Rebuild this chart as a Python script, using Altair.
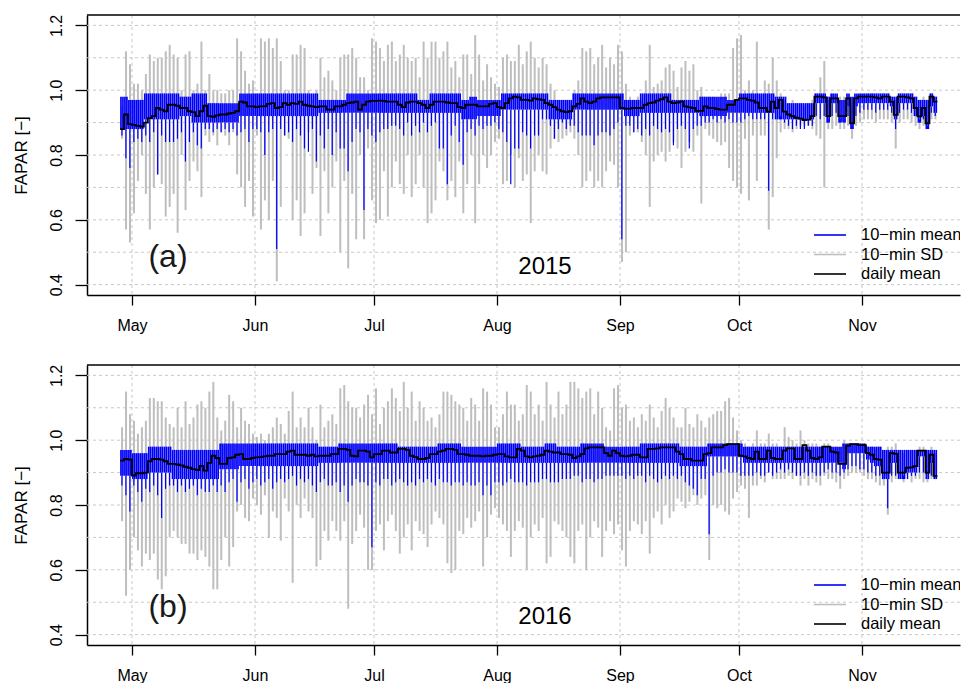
import altair as alt
import pandas as pd

# ---------------- data ----------------
# day index 0 = 28 April; month ticks at the first day of each month
MONTHS = ["May", "Jun", "Jul", "Aug", "Sep", "Oct", "Nov"]
MONTH_DAY = [3, 34, 64, 95, 126, 156, 187]
Y_TICKS = [0.4, 0.6, 0.8, 1.0, 1.2]
Y_GRID = [0.4, 0.5, 0.6, 0.7, 0.8, 0.9, 1.0, 1.1, 1.2]
LEGEND_LABELS = ["10\u2212min mean", "10\u2212min SD", "daily mean"]
LEGEND_COLORS = ["#0000FF", "#BEBEBE", "#000000"]

# 2015 -------------------------------------------------------
MEAN_2015 = [880, 925, 895, 893, 890, 888, 900, 914, 920, 945, 940, 935, 955, 955, 952, 945, 945, 935, 932, 920,
             935, 952, 920, 918, 922, 925, 925, 928, 930, 935, 965, 962, 950, 950, 948, 950, 950, 958, 960, 945,
             948, 960, 955, 960, 958, 965, 955, 952, 950, 948,
             950, 950, 940, 940, 950, 950, 955, 960, 962, 965, 940, 955, 965, 967, 967, 968, 967, 965, 965, 965,
             955, 948, 962, 965, 965, 960, 955, 945, 955, 965, 965, 965, 962, 960, 960, 948, 945, 955, 955, 955,
             950, 950, 950, 958, 960, 948, 945, 960, 975, 980, 978, 970, 970, 968, 975, 972, 970, 960, 955, 948,
             940, 935, 932, 935, 950, 958, 975, 965, 960, 965, 975, 978, 978, 978, 978, 978, 945, 943, 943, 945,
             945,
             945, 955, 960, 962, 968, 972, 978, 965, 960, 962, 965, 950, 947, 945, 936, 936, 950, 945, 945, 942,
             940, 940, 955, 955, 970, 975, 975, 970, 968, 962, 945, 945, 934, 965, 945, 970, 934, 925, 920, 915,
             912, 908, 909, 920, 980, 980, 978, 920, 975, 975, 920, 920, 975, 898, 975, 980, 980, 980, 980, 978,
             975, 980, 980, 965, 924, 980, 980, 978, 975, 945, 919, 945, 898, 980, 965]
SD_HI_2015 = [95, 112, 108, 102, 102, 100, 105, 111, 109, 110, 110, 112, 114, 111, 110, 100, 111, 112, 100, 102,
              115, 100, 105, 100, 100, 99, 99, 100, 100, 116, 112, 106, 102, 103, 99, 116, 115, 116, 113, 116,
              109, 100, 100, 111, 111, 114, 113, 100, 97, 100,
              110, 104, 106, 103, 100, 110, 111, 111, 113, 110, 104, 104, 100, 116, 115, 113, 109, 114, 115, 109,
              111, 114, 110, 109, 110, 104, 115, 110, 115, 115, 110, 112, 115, 107, 109, 104, 111, 111, 105, 117,
              111, 103, 108, 104, 102, 101, 110, 111, 109, 109, 114, 108, 112, 115, 110, 107, 110, 108, 102, 100,
              97, 97, 97, 96, 100, 103, 113, 112, 113, 108, 110, 114, 107, 110, 108, 114, 112, 102, 98, 97,
              98,
              97, 103, 114, 101, 102, 103, 107, 108, 106, 101, 107, 109, 106, 108, 100, 101, 97, 98, 98, 97,
              99, 99, 99, 113, 116, 117, 100, 103, 100, 115, 98, 103, 102, 110, 103, 99, 97, 96, 97, 96,
              96, 95, 96, 97, 99, 104, 109, 97, 99, 98, 98, 98, 98, 96, 98, 99, 99, 99, 99, 97,
              98, 99, 99, 98, 97, 99, 99, 99, 99, 98, 97, 98, 97, 99, 98]
SD_LO_2015 = [85, 57, 53, 62, 72, 80, 68, 57, 70, 74, 71, 61, 64, 68, 56, 80, 63, 72, 78, 75,
              67, 86, 84, 86, 83, 87, 86, 83, 87, 74, 70, 64, 72, 61, 86, 57, 66, 60, 72, 41,
              64, 86, 85, 60, 66, 55, 62, 87, 68, 76,
              55, 75, 62, 70, 78, 50, 72, 45, 68, 54, 80, 54, 82, 66, 59, 60, 75, 61, 70, 78,
              71, 68, 80, 67, 71, 80, 70, 59, 62, 66, 78, 75, 66, 72, 67, 78, 62, 71, 80, 59,
              71, 80, 76, 80, 84, 85, 71, 72, 80, 70, 79, 72, 74, 59, 75, 80, 75, 74, 82, 85,
              84, 85, 86, 87, 85, 80, 70, 72, 75, 70, 72, 70, 75, 78, 77, 70, 47, 50, 86, 87,
              87,
              84, 80, 64, 78, 80, 81, 78, 81, 84, 82, 76, 81, 84, 81, 86, 65, 88, 86, 85, 84,
              83, 84, 76, 72, 70, 68, 85, 66, 86, 72, 86, 86, 57, 67, 79, 87, 88, 88, 87, 88,
              89, 89, 89, 88, 86, 85, 70, 88, 88, 89, 88, 88, 89, 85, 89, 90, 91, 91, 91, 90,
              91, 91, 91, 90, 82, 90, 91, 91, 90, 89, 88, 89, 89, 91, 91]
BLUE_TOP_2015 = ([98] * 2 + [97] * 4 + [99] * 9 + [98] * 3 + [99] * 4 + [96] * 8 + [99] * 20
                 + [97] * 7 + [99] * 18 + [97] * 3 + [99] * 8 + [97] * 2 + [98] * 2 + [97] * 6 + [99] * 12
                 + [97] * 6 + [99] * 13 + [97] * 4
                 + [99] * 8 + [97] * 7 + [98] * 7 + [97] * 3 + [99] * 9 + [98] * 3 + [96] * 7 + [99] * 3
                 + [98] + [99] * 2 + [97] * 2 + [99] + [98] + [99] * 9 + [98] * 2 + [99] * 4 + [98]
                 + [97] * 3 + [99] + [98])
BLUE_CORE_2015 = ([88] * 6 + [91] * 9 + [92] * 3 + [90] * 4 + [90] * 8 + [92] * 20
                  + [93] * 36 + [91] * 4 + [92] * 6 + [94] * 12 + [91] * 6 + [94] * 13 + [92] * 4
                  + [93] * 15 + [92] * 7 + [93] * 12 + [91] * 10
                  + [96, 96, 96, 90, 96, 96, 90, 90, 95, 88, 95] + [96] * 8 + [95, 91] + [96] * 4
                  + [92, 90, 92, 88, 95, 93])
BLUE_MIN_2015 = [86, 79, 76, 84, 85, 84, 86, 84, 87, 74, 86, 84, 84, 84, 85, 87, 78, 84, 87, 83,
                 82, 88, 88, 87, 88, 87, 88, 87, 88, 86, 87, 88, 84, 88, 88, 87, 80, 87, 88, 51,
                 88, 86, 87, 84, 88, 86, 82, 81, 88, 78,
                 86, 82, 88, 80, 87, 82, 82, 75, 84, 88, 87, 63, 88, 86, 84, 87, 88, 88, 89, 89,
                 88, 86, 90, 86, 89, 87, 90, 87, 89, 90, 82, 82, 71, 86, 89, 84, 77, 87, 88, 86,
                 89, 88, 89, 89, 90, 88, 87, 84, 71, 82, 82, 87, 86, 82, 86, 86, 91, 91, 89, 85,
                 88, 90, 88, 89, 89, 87, 86, 86, 86, 83, 86, 87, 87, 86, 88, 90, 54, 89, 89, 87,
                 88,
                 86, 88, 86, 89, 88, 87, 88, 87, 83, 88, 89, 88, 82, 88, 89, 89, 90, 90, 91, 90,
                 91, 90, 91, 90, 90, 90, 91, 92, 91, 91, 91, 91, 69, 91, 91, 92, 90, 89, 88, 89,
                 88, 88, 89, 89, 92, 91, 92, 91, 92, 93, 91, 91, 92, 89, 92, 93, 94, 94, 94, 93,
                 94, 94, 94, 93, 88, 93, 94, 94, 93, 92, 91, 91, 89, 93, 92]

# 2016 -------------------------------------------------------
MEAN_2016 = [937, 942, 940, 891, 898, 898, 900, 935, 942, 942, 940, 935, 927, 927, 925, 922, 918, 915, 911, 908,
             921, 906, 930, 952, 945, 927, 927, 945, 947, 955, 957, 942, 942, 945, 947, 948, 950, 952, 952, 957,
             957, 957, 965, 968, 955, 955, 955, 952, 955, 950,
             952, 952, 952, 957, 957, 973, 973, 970, 952, 950, 968, 968, 965, 947, 957, 957, 968, 968, 962, 962,
             973, 973, 970, 952, 948, 942, 942, 945, 957, 957, 965, 968, 973, 973, 970, 957, 957, 955, 952, 952,
             952, 950, 952, 952, 955, 957, 957, 950, 947, 947, 973, 968, 950, 947, 950, 952, 955, 968, 965, 962,
             962, 957, 957, 955, 945, 950, 957, 975, 978, 978, 978, 978, 960, 952, 968, 960, 952, 950, 952, 955,
             955,
             947, 947, 973, 973, 975, 978, 978, 978, 978, 965, 957, 942, 942, 937, 937, 937, 957, 960, 978, 978,
             978, 985, 988, 988, 988, 952, 950, 945, 942, 965, 942, 942, 968, 945, 942, 942, 968, 975, 975, 942,
             942, 985, 968, 945, 942, 947, 980, 980, 965, 962, 927, 927, 983, 988, 988, 985, 985, 960, 955, 942,
             940, 900, 900, 960, 958, 900, 900, 915, 916, 920, 968, 968, 900, 955, 890]
SD_HI_2016 = [104, 115, 108, 106, 102, 104, 106, 113, 113, 112, 112, 107, 105, 104, 110, 104, 112, 105, 107, 111,
              112, 110, 115, 118, 107, 103, 106, 114, 112, 104, 110, 106, 105, 102, 101, 102, 100, 102, 104, 107,
              105, 102, 109, 115, 104, 107, 104, 110, 104, 100,
              111, 104, 106, 108, 105, 116, 117, 112, 110, 110, 107, 111, 114, 108, 116, 105, 110, 112, 116, 113,
              109, 118, 110, 115, 106, 112, 110, 106, 107, 104, 108, 115, 115, 114, 112, 111, 110, 106, 113, 111,
              106, 116, 115, 111, 104, 104, 108, 115, 111, 111, 106, 108, 117, 115, 108, 111, 106, 118, 111, 107,
              115, 108, 111, 118, 118, 116, 113, 115, 116, 108, 115, 110, 104, 103, 116, 117, 110, 111, 106, 107,
              104,
              108, 106, 111, 107, 104, 109, 113, 110, 107, 104, 104, 110, 105, 104, 108, 106, 104, 107, 108, 109,
              109, 112, 113, 107, 103, 100, 99, 98, 99, 103, 99, 99, 102, 99, 99, 98, 104, 101, 100, 99,
              103, 100, 99, 99, 99, 98, 99, 99, 98, 98, 98, 100, 99, 99, 99, 99, 99, 98, 98, 97,
              98, 97, 98, 98, 99, 97, 96, 97, 97, 97, 98, 98, 97, 98, 96]
SD_LO_2016 = [75, 52, 60, 70, 66, 61, 65, 63, 65, 57, 54, 58, 70, 72, 70, 68, 68, 65, 65, 63,
              66, 64, 61, 54, 54, 63, 70, 61, 67, 78, 80, 76, 75, 82, 80, 77, 83, 70, 78, 76,
              69, 82, 78, 56, 80, 76, 82, 78, 76, 61,
              63, 72, 69, 75, 72, 69, 75, 48, 68, 72, 77, 73, 60, 60, 72, 74, 66, 75, 77, 72,
              65, 70, 74, 66, 75, 72, 71, 67, 74, 78, 76, 74, 62, 59, 60, 72, 71, 76, 73, 75,
              78, 61, 70, 77, 79, 76, 74, 72, 64, 72, 75, 73, 60, 70, 74, 72, 76, 62, 64, 75,
              74, 72, 70, 64, 62, 72, 74, 60, 70, 75, 73, 64, 72, 75, 71, 74, 66, 61, 72, 75,
              74,
              71, 75, 65, 76, 78, 74, 80, 76, 78, 82, 81, 79, 81, 83, 80, 82, 83, 63, 80, 79,
              80, 78, 77, 82, 84, 86, 85, 76, 86, 86, 88, 87, 90, 88, 88, 88, 88, 89, 88, 89,
              86, 88, 86, 88, 87, 86, 89, 88, 88, 87, 85, 88, 89, 90, 90, 90, 89, 88, 88, 87,
              86, 86, 77, 87, 88, 88, 87, 88, 87, 88, 88, 87, 87, 88, 88]
BLUE_TOP_2016 = ([97] * 3 + [96] * 4 + [98] * 6 + [97] * 12 + [99] * 25
                 + [98] * 5 + [99] * 15 + [98] * 5 + [98] * 5 + [99] * 6 + [98] * 9 + [99] * 6 + [98] * 6
                 + [99] * 3 + [98] * 6 + [99] * 6 + [98] * 9
                 + [99] * 10 + [98] * 7 + [99] * 9 + [98] * 25 + [99] * 6 + [98] * 4 + [97] * 14)
BLUE_CORE_2016 = ([89] * 3 + [88] * 4 + [90] * 6 + [88] * 12 + [91] * 5 + [92] * 20
                  + [93] * 81
                  + [93] * 10 + [92] * 7 + [95] * 9 + [93] * 25 + [91] + [96] * 5
                  + [94, 93, 92, 92, 88, 88, 93, 93, 88, 88, 90, 90, 90, 95, 95, 88, 93, 88])
BLUE_MIN_2016 = [86, 83, 78, 86, 84, 81, 85, 84, 86, 83, 76, 85, 86, 86, 84, 86, 84, 85, 86, 83,
                 85, 84, 84, 86, 84, 86, 84, 87, 88, 81, 87, 88, 85, 87, 88, 86, 87, 88, 85, 87,
                 88, 87, 88, 89, 86, 88, 87, 88, 86, 84,
                 87, 88, 86, 86, 87, 84, 86, 81, 86, 88, 87, 87, 86, 67, 87, 86, 88, 88, 86, 87,
                 88, 87, 86, 87, 86, 88, 87, 88, 87, 86, 88, 87, 87, 86, 87, 87, 86, 87, 86, 86,
                 87, 83, 86, 83, 87, 87, 86, 87, 88, 87, 87, 87, 86, 87, 87, 87, 88, 88, 87, 87,
                 87, 88, 88, 88, 89, 89, 87, 88, 88, 87, 88, 88, 89, 89, 89, 89, 89, 88, 89, 88,
                 89,
                 89, 87, 89, 88, 87, 88, 89, 88, 89, 88, 89, 87, 86, 85, 83, 88, 88, 71, 89, 90,
                 90, 91, 90, 90, 90, 89, 89, 89, 89, 90, 89, 89, 90, 89, 90, 91, 90, 91, 90, 89,
                 89, 90, 89, 90, 89, 89, 90, 91, 90, 90, 89, 90, 91, 92, 92, 91, 91, 90, 90, 89,
                 89, 88, 79, 89, 89, 88, 89, 88, 89, 89, 90, 90, 88, 89, 88]

# ---------------- layout ----------------
W, H = 873, 280
XDOM = [-8.34, 211.7]
YDOM = [0.368, 1.232]
FONT = "Liberation Sans"

label_expr = " : ".join(f"datum.value == {d} ? '{m}'" for d, m in zip(MONTH_DAY, MONTHS)) + " : ''"

xscale = alt.Scale(domain=XDOM, nice=False, zero=False)
yscale = alt.Scale(domain=YDOM, nice=False, zero=False)
xaxis = alt.Axis(values=MONTH_DAY, labelExpr=label_expr, title=None, grid=False,
                 tickSize=10, tickWidth=1.3, tickColor="black", domainColor="black", domainWidth=1.5,
                 labelFontSize=16, labelColor="black", labelFont=FONT, labelPadding=12,
                 labelFlush=False, labelOverlap=False)
yaxis = alt.Axis(values=Y_TICKS, format=".1f", title="FAPAR [\u2212]", grid=False,
                 tickSize=12, tickWidth=1.3, tickColor="black", domainColor="black", domainWidth=1.5,
                 labelFontSize=16, labelColor="black", labelFont=FONT, labelAngle=270,
                 labelAlign="center", labelBaseline="alphabetic", labelPadding=14, labelFlush=False,
                 titleFontSize=17, titleFont=FONT, titleFontWeight="normal", titleColor="black",
                 titlePadding=18)


def X(field):
    return alt.X(field, type="quantitative", scale=xscale, axis=xaxis)


def Y(field):
    return alt.Y(field, type="quantitative", scale=yscale, axis=yaxis)


def panel(tag, year, mean, btop, bcore, bmin, ghi, glo):
    n = min(len(mean), len(btop), len(bcore), len(bmin), len(ghi), len(glo))
    days = list(range(n))
    df = pd.DataFrame({
        "d": days,
        "da": [d + 0.22 for d in days],
        "db": [d + 0.72 for d in days],
        "dm": [d + 0.47 for d in days],
        "dg": [d + 0.5 for d in days],
        "mean": [v / 1000 for v in mean[:n]],
        "btop": [v / 100 for v in btop[:n]],
        "bcore": [v / 100 for v in bcore[:n]],
        "bmin": [v / 100 for v in bmin[:n]],
        "ghi": [v / 100 for v in ghi[:n]],
        "glo": [v / 100 for v in glo[:n]],
    })
    # step line of daily means
    step = []
    for d, m in zip(days, df["mean"]):
        step.append({"sx": d, "sy": m, "o": 2 * d})
        step.append({"sx": d + 1, "sy": m, "o": 2 * d + 1})
    step = pd.DataFrame(step)

    one = pd.DataFrame({"k": [0]})
    grid_h = alt.Chart(pd.DataFrame({"g": Y_GRID})).mark_rule(
        color="#C8C8C8", strokeDash=[3, 3], strokeWidth=1).encode(y=Y("g"))
    grid_v = alt.Chart(pd.DataFrame({"m": MONTH_DAY})).mark_rule(
        color="#C8C8C8", strokeDash=[3, 3], strokeWidth=1).encode(x=X("m"))
    gray = alt.Chart(df).mark_rule(color="#BEBEBE", strokeWidth=2.0, clip=True).encode(
        x=X("dg"), y=Y("glo"), y2="ghi")
    blue_a = alt.Chart(df).mark_rule(color="#0000FF", strokeWidth=1.7, clip=True).encode(
        x=X("da"), y=Y("bcore"), y2="btop")
    blue_b = alt.Chart(df).mark_rule(color="#0000FF", strokeWidth=1.7, clip=True).encode(
        x=X("db"), y=Y("bcore"), y2="btop")
    blue_spike = alt.Chart(df).mark_rule(color="#0000FF", strokeWidth=1.2, clip=True).encode(
        x=X("dm"), y=Y("bmin"), y2="bcore")
    line = alt.Chart(step).mark_line(color="black", strokeWidth=1.8, clip=True).encode(
        x=X("sx"), y=Y("sy"), order="o:Q")
    frame_top = alt.Chart(one).mark_rule(color="black", strokeWidth=1.5).encode(
        x=alt.value(0), x2=alt.value(W), y=alt.value(0))
    tag_text = alt.Chart(one).mark_text(text=tag, font=FONT, fontSize=32, color="#1a1a1a",
                                        align="center", baseline="alphabetic").encode(
        x=alt.value(81), y=alt.value(252))
    year_text = alt.Chart(one).mark_text(text=year, font=FONT, fontSize=24, color="black",
                                         align="center", baseline="alphabetic").encode(
        x=alt.value(458), y=alt.value(259))
    layers = [grid_h, grid_v, gray, blue_a, blue_b, blue_spike, line, frame_top, tag_text, year_text]
    for i, (lab, col) in enumerate(zip(LEGEND_LABELS, LEGEND_COLORS)):
        ly = 220 + 19.5 * i
        layers.append(alt.Chart(one).mark_rule(color=col, strokeWidth=1.6).encode(
            x=alt.value(727), x2=alt.value(759), y=alt.value(ly)))
        layers.append(alt.Chart(one).mark_text(text=lab, font=FONT, fontSize=16.5, color="black",
                                               align="left", baseline="middle", clip=True).encode(
            x=alt.value(774), y=alt.value(ly)))
    return alt.layer(*layers).properties(width=W, height=H)


pa = panel("(a)", "2015", MEAN_2015, BLUE_TOP_2015, BLUE_CORE_2015, BLUE_MIN_2015, SD_HI_2015, SD_LO_2015)
pb = panel("(b)", "2016", MEAN_2016, BLUE_TOP_2016, BLUE_CORE_2016, BLUE_MIN_2016, SD_HI_2016, SD_LO_2016)

chart = alt.vconcat(pa, pb, spacing=31).configure(
    padding={"left": 12, "top": 14, "right": 0, "bottom": 0},
    background="white",
).configure_view(stroke=None)

chart.save("out.html", embed_options={"renderer": "svg", "actions": False})
